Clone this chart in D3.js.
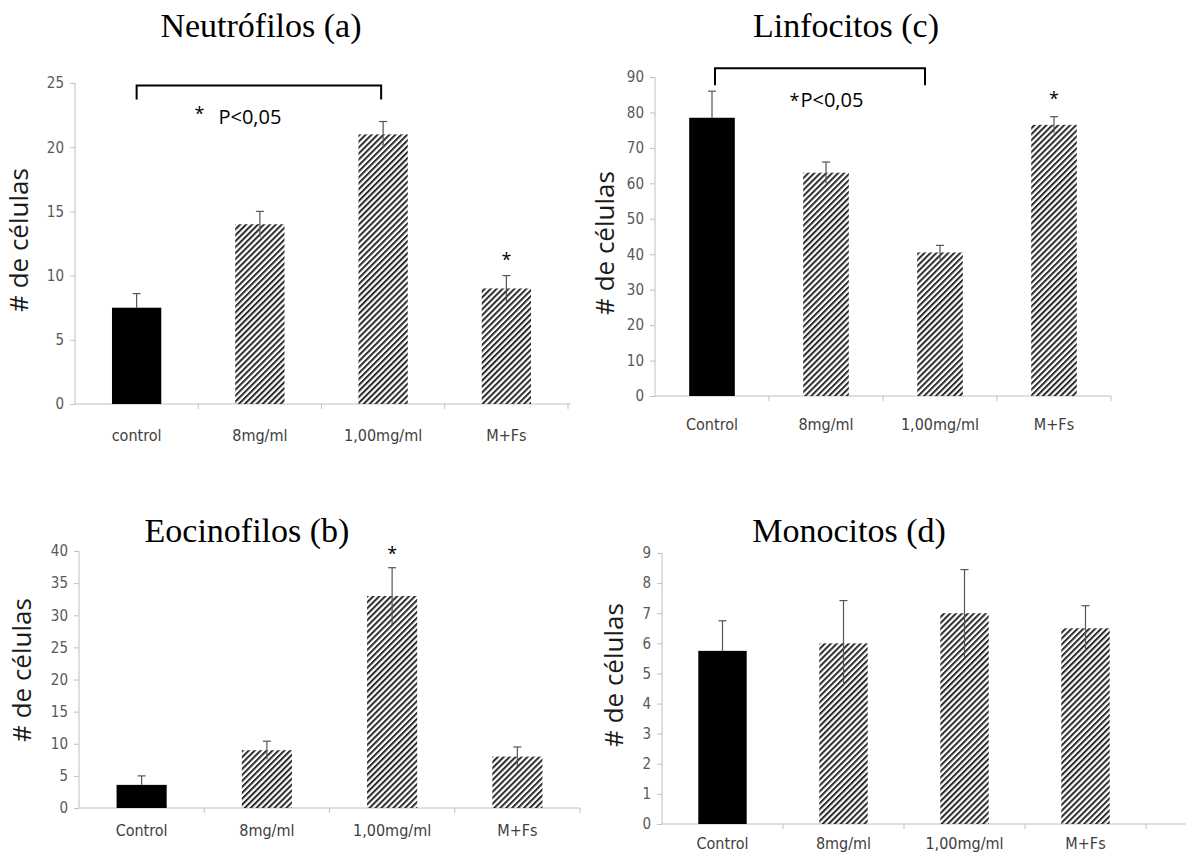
<!DOCTYPE html>
<html>
<head>
<meta charset="utf-8">
<script src="https://cdn.jsdelivr.net/npm/d3@7"></script>
<style>
  body { margin: 0; background: #fff; }
</style>
</head>
<body>
<div id="chart"></div>
<script>
// categories
var catsA = ["control", "8mg/ml", "1,00mg/ml", "M+Fs"];
var catsB = ["Control", "8mg/ml", "1,00mg/ml", "M+Fs"];

// series values and error bars
var neutrofilos = [7.5, 14, 21, 9];
var neutrofilosErr = [1.1, 1, 1, 1];
var linfocitos = [78.5, 63, 40.5, 76.5];
var linfocitosErr = [7.5, 3, 2, 2.3];
var eocinofilos = [3.6, 9, 33, 8];
var eocinofilosErr = [1.4, 1.4, 4.4, 1.5];
var monocitos = [5.75, 6, 7, 6.5];
var monocitosErr = [1, 1.42, 1.45, 0.75];

// y tick labels
var ticksNeutro = [0, 5, 10, 15, 20, 25];
var ticksLinfo = [0, 10, 20, 30, 40, 50, 60, 70, 80, 90];
var ticksEoci = [0, 5, 10, 15, 20, 25, 30, 35, 40];
var ticksMono = [0, 1, 2, 3, 4, 5, 6, 7, 8, 9];

var W = 1186, H = 856;
var narrow = "'DejaVu Sans Condensed', 'Liberation Sans Narrow', 'Arial Narrow', sans-serif";
var sans = "'Open Sans', 'Liberation Sans', sans-serif";

var svg = d3.select("#chart").append("svg")
  .attr("width", W)
  .attr("height", H);

// hatch pattern
svg.append("defs").append("pattern")
  .attr("id", "hatch")
  .attr("patternUnits", "userSpaceOnUse")
  .attr("width", 4.2)
  .attr("height", 4.2)
  .attr("patternTransform", "rotate(45)")
  .append("rect")
  .attr("x", 0).attr("y", 0)
  .attr("width", 2).attr("height", 4.2)
  .attr("fill", "#2a2a2a");

var panels = [
  {title: "Neutrófilos (a)", cats: catsA, vals: neutrofilos, errs: neutrofilosErr, ticks: ticksNeutro,
   x0: 75, x1: 568, axisEnd: 571, yTop: 83, yBase: 404, titleX: 261, titleY: 37, labX: 19, labY: 240, catDy: 37,
   bracket: {from: 0, to: 2, v: 24.8, drop: 14, dx1: -2}, ptext: {cat: 0.47, v: 21.8, sep: true},
   stars: [{cat: 3, v: 10.75}]},
  {title: "Linfocitos (c)", cats: catsB, vals: linfocitos, errs: linfocitosErr, ticks: ticksLinfo,
   x0: 655, x1: 1111, axisEnd: 1111, yTop: 77, yBase: 396, titleX: 846, titleY: 37, labX: 605, labY: 243, catDy: 34,
   bracket: {from: 0, to: 2, v: 92.5, drop: 17, dx0: 3, dx1: -15}, ptext: {cat: 0.68, v: 81.6, sep: false},
   stars: [{cat: 3, v: 82}]},
  {title: "Eocinofilos (b)", cats: catsB, vals: eocinofilos, errs: eocinofilosErr, ticks: ticksEoci,
   x0: 79, x1: 580, axisEnd: 580, yTop: 551, yBase: 808, titleX: 247, titleY: 542, labX: 22, labY: 670, catDy: 28,
   stars: [{cat: 2, v: 38.6}]},
  {title: "Monocitos (d)", cats: catsB, vals: monocitos, errs: monocitosErr, ticks: ticksMono,
   x0: 662, x1: 1146, axisEnd: 1186, yTop: 553, yBase: 824, titleX: 849, titleY: 542, labX: 614, labY: 675, catDy: 25,
   stars: []}
];

panels.forEach(function(p) {
  var g = svg.append("g");
  var maxV = d3.max(p.ticks);

  var x = d3.scaleBand().domain(p.cats).range([p.x0, p.x1]).paddingInner(0.6).paddingOuter(0.3);
  var xb = d3.scaleBand().domain(p.cats).range([p.x0, p.x1]);
  var y = d3.scaleLinear().domain([0, maxV]).range([p.yBase, p.yTop]);
  var cx = function(c) { return xb(c) + xb.bandwidth() / 2; };

  // title
  g.append("text")
    .attr("x", p.titleX).attr("y", p.titleY)
    .attr("text-anchor", "middle")
    .style("font-family", "'Liberation Serif', 'Times New Roman', serif")
    .style("font-size", "34px")
    .attr("fill", "#000")
    .text(p.title);

  // y label
  g.append("text")
    .attr("transform", "translate(" + p.labX + "," + p.labY + ") rotate(-90)")
    .attr("text-anchor", "middle")
    .attr("dy", "0.35em")
    .style("font-family", sans)
    .style("font-size", "26px")
    .attr("fill", "#1a1a1a")
    .text("# de células");

  // y axis
  var yAxis = g.append("g")
    .attr("transform", "translate(" + p.x0 + ",0)")
    .call(d3.axisLeft(y).tickValues(p.ticks).tickSize(5).tickPadding(6).tickFormat(d3.format("d")));
  yAxis.select(".domain").attr("stroke", "#c0c0c0").attr("d", "M0," + p.yTop + "V" + p.yBase);
  yAxis.selectAll(".tick line").attr("stroke", "#c0c0c0");
  yAxis.selectAll(".tick text")
    .attr("fill", "#595959")
    .style("font-family", narrow)
    .style("font-stretch", "condensed")
    .style("font-size", "15px");

  // x axis
  var xg = g.append("g").attr("transform", "translate(0," + p.yBase + ")");
  xg.append("line")
    .attr("x1", p.x0).attr("x2", p.axisEnd)
    .attr("stroke", "#c0c0c0");
  xg.selectAll(".sep")
    .data(p.cats)
    .enter().append("line")
    .attr("class", "sep")
    .attr("x1", function(d) { return xb(d) + xb.bandwidth(); })
    .attr("x2", function(d) { return xb(d) + xb.bandwidth(); })
    .attr("y1", 0).attr("y2", 5)
    .attr("stroke", "#c0c0c0");
  xg.selectAll(".cat")
    .data(p.cats)
    .enter().append("text")
    .attr("class", "cat")
    .attr("x", cx)
    .attr("y", p.catDy)
    .attr("text-anchor", "middle")
    .style("font-family", narrow)
    .style("font-stretch", "condensed")
    .style("font-size", "16px")
    .attr("fill", "#404040")
    .text(function(d) { return d; });

  // bars
  g.selectAll(".bar")
    .data(p.vals)
    .enter().append("rect")
    .attr("x", function(d, i) { return x(p.cats[i]); })
    .attr("width", x.bandwidth())
    .attr("y", function(d) { return y(d); })
    .attr("height", function(d) { return p.yBase - y(d); })
    .attr("fill", function(d, i) { return i === 0 ? "#000" : "url(#hatch)"; });

  // error bars (lower half hidden on the solid black bar)
  var eb = g.selectAll(".err")
    .data(p.vals)
    .enter().append("g");
  eb.append("line")
    .attr("x1", function(d, i) { return cx(p.cats[i]); })
    .attr("x2", function(d, i) { return cx(p.cats[i]); })
    .attr("y1", function(d, i) { return i === 0 ? y(d) : y(d - p.errs[i]); })
    .attr("y2", function(d, i) { return y(d + p.errs[i]); })
    .attr("stroke", "#555")
    .attr("stroke-width", 1.2);
  eb.append("line")
    .attr("x1", function(d, i) { return cx(p.cats[i]) - 4; })
    .attr("x2", function(d, i) { return cx(p.cats[i]) + 4; })
    .attr("y1", function(d, i) { return y(d + p.errs[i]); })
    .attr("y2", function(d, i) { return y(d + p.errs[i]); })
    .attr("stroke", "#555")
    .attr("stroke-width", 1.2);

  // bracket and p-value
  if (p.bracket) {
    var b = p.bracket;
    var bx0 = cx(p.cats[b.from]) + (b.dx0 || 0);
    var bx1 = cx(p.cats[b.to]) + (b.dx1 || 0);
    var by = y(b.v);
    g.append("path")
      .attr("d", "M" + bx0 + "," + (by + b.drop) + "V" + by + "H" + bx1 + "V" + (by + b.drop))
      .attr("fill", "none")
      .attr("stroke", "#000")
      .attr("stroke-width", 2);
  }
  if (p.ptext) {
    var px = xb(p.cats[1]) + xb.bandwidth() * (p.ptext.cat - 0.5);
    var t = g.append("text")
      .attr("x", px).attr("y", y(p.ptext.v))
      .style("font-family", sans)
      .style("font-size", "20px")
      .attr("fill", "#000");
    t.append("tspan").style("font-size", "18px").attr("dy", p.ptext.sep ? "-4" : "0").text("*");
    t.append("tspan").attr("dx", p.ptext.sep ? "14" : "1").attr("dy", p.ptext.sep ? "4" : "0").text("P<0,05");
  }
  g.selectAll(".star")
    .data(p.stars)
    .enter().append("text")
    .attr("x", function(d) { return cx(p.cats[d.cat]); })
    .attr("y", function(d) { return y(d.v); })
    .attr("text-anchor", "middle")
    .style("font-family", sans)
    .style("font-size", "18px")
    .attr("fill", "#000")
    .text("*");
});
</script>
</body>
</html>
